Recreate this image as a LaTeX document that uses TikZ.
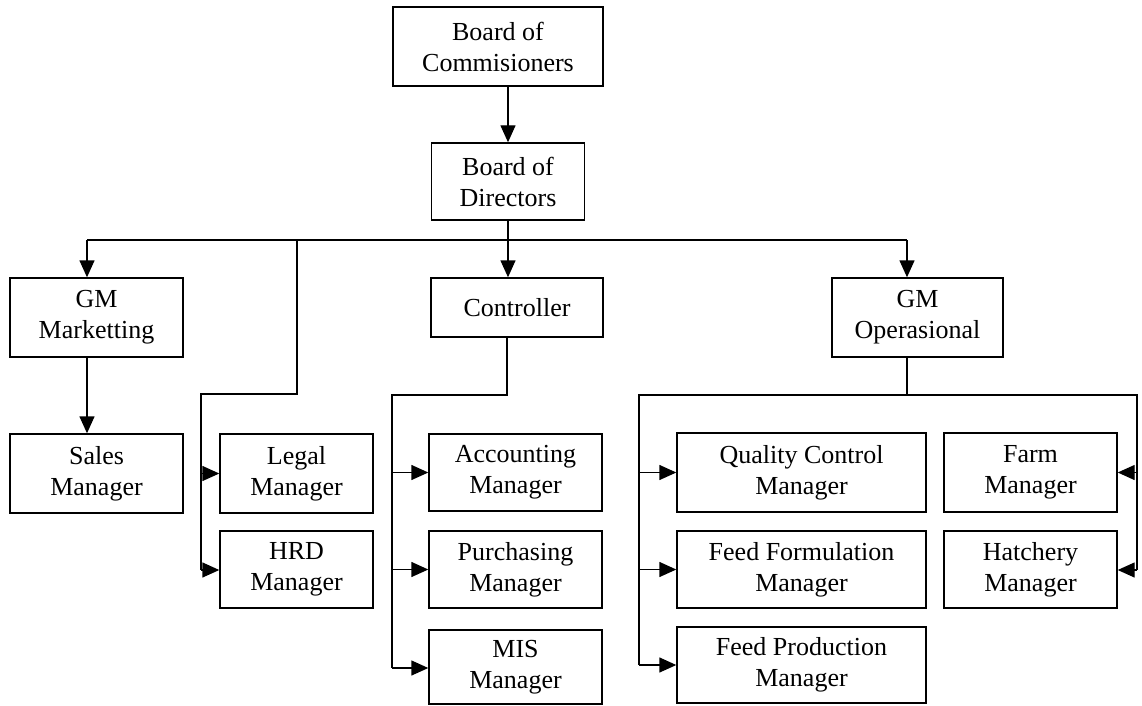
\documentclass[tikz,border=0pt]{standalone}
\usepackage{fontspec}
\setmainfont{Liberation Serif}
\usetikzlibrary{arrows.meta}
\begin{document}
\begin{tikzpicture}[x=1pt,y=-1pt,
  box/.style={draw, line width=1.4pt, align=center, inner sep=0pt,
    font=\fontsize{26}{31}\selectfont},
  conn/.style={line width=1.4pt},
  arr/.style={line width=1.4pt, -{Triangle[length=17pt,width=15pt]}}]
\useasboundingbox (0,0) rectangle (1142,706);
% nodes
\node[box, minimum width=210pt, minimum height=79pt] (bc) at (498,46.5) {Board of\\Commisioners};
\node[box, minimum width=153pt, minimum height=77pt] (bd) at (508,181.5) {Board of\\Directors};
\node[box, minimum width=173pt, minimum height=79pt] (gmm) at (96.5,317.5) {GM\\Marketting};
\node[box, minimum width=172pt, minimum height=59pt] (ctrl) at (517,307.5) {Controller};
\node[box, minimum width=171pt, minimum height=79pt] (gmo) at (917.5,317.5) {GM\\Operasional};
\node[box, minimum width=173pt, minimum height=79pt] (sales) at (96.5,473.5) {Sales\\Manager};
\node[box, minimum width=153pt, minimum height=79pt] (legal) at (296.5,473.5) {Legal\\Manager};
\node[box, minimum width=153pt, minimum height=77pt] (hrd) at (296.5,569.5) {HRD\\Manager};
\node[box, minimum width=173pt, minimum height=77pt] (acc) at (515.5,472.5) {Accounting\\Manager};
\node[box, minimum width=173pt, minimum height=77pt] (pur) at (515.5,569.5) {Purchasing\\Manager};
\node[box, minimum width=173pt, minimum height=74pt] (mis) at (515.5,667) {MIS\\Manager};
\node[box, minimum width=249pt, minimum height=79pt] (qc) at (801.5,472.5) {Quality Control\\Manager};
\node[box, minimum width=249pt, minimum height=77pt] (ff) at (801.5,569.5) {Feed Formulation\\Manager};
\node[box, minimum width=249pt, minimum height=76pt] (fp) at (801.5,665) {Feed Production\\Manager};
\node[box, minimum width=173pt, minimum height=79pt] (farm) at (1030.5,472.5) {Farm\\Manager};
\node[box, minimum width=173pt, minimum height=77pt] (hat) at (1030.5,569.5) {Hatchery\\Manager};
% coordinates
\coordinate (busL) at (87,240);
\coordinate (busM) at (508,240);
\coordinate (busR) at (907,240);
\coordinate (lg1) at (297,240);
\coordinate (lg2) at (297,394);
\coordinate (lg3) at (201,394);
\coordinate (lg4) at (201,570);
\coordinate (ct1) at (507,395);
\coordinate (ct2) at (392,395);
\coordinate (ct3) at (392,668);
\coordinate (op1) at (907,395);
\coordinate (opL) at (639,395);
\coordinate (opR) at (1137,395);
\coordinate (opL2) at (639,665);
\coordinate (opR2) at (1137,570);
% connectors
\draw[arr] (bd.north |- bc.south) -- (bd.north);
\draw[conn] (bd.south) -- (busM);
\draw[conn] (busL) -- (busR);
\draw[arr] (busL) -- (busL |- gmm.north);
\draw[arr] (busM) -- (busM |- ctrl.north);
\draw[arr] (busR) -- (busR |- gmo.north);
\draw[arr] (busL |- gmm.south) -- (busL |- sales.north);
% legal / hrd
\draw[conn] (lg1) -- (lg2) -- (lg3) -- (lg4);
\draw[arr] (lg3 |- legal.west) -- (legal.west);
\draw[arr] (lg4) -- (lg4 -| hrd.west);
% controller
\draw[conn] (ct1 |- ctrl.south) -- (ct1) -- (ct2) -- (ct3);
\draw[arr] (ct2 |- acc.west) -- (acc.west);
\draw[arr] (ct2 |- pur.west) -- (pur.west);
\draw[arr] (ct3) -- (ct3 -| mis.west);
% operasional
\draw[conn] (op1 |- gmo.south) -- (op1);
\draw[conn] (opL2) -- (opL) -- (opR) -- (opR2);
\draw[arr] (opL |- qc.west) -- (qc.west);
\draw[arr] (opL |- ff.west) -- (ff.west);
\draw[arr] (opL2) -- (opL2 -| fp.west);
\draw[arr] (opR |- farm.east) -- (farm.east);
\draw[arr] (opR2) -- (opR2 -| hat.east);
\end{tikzpicture}
\end{document}
